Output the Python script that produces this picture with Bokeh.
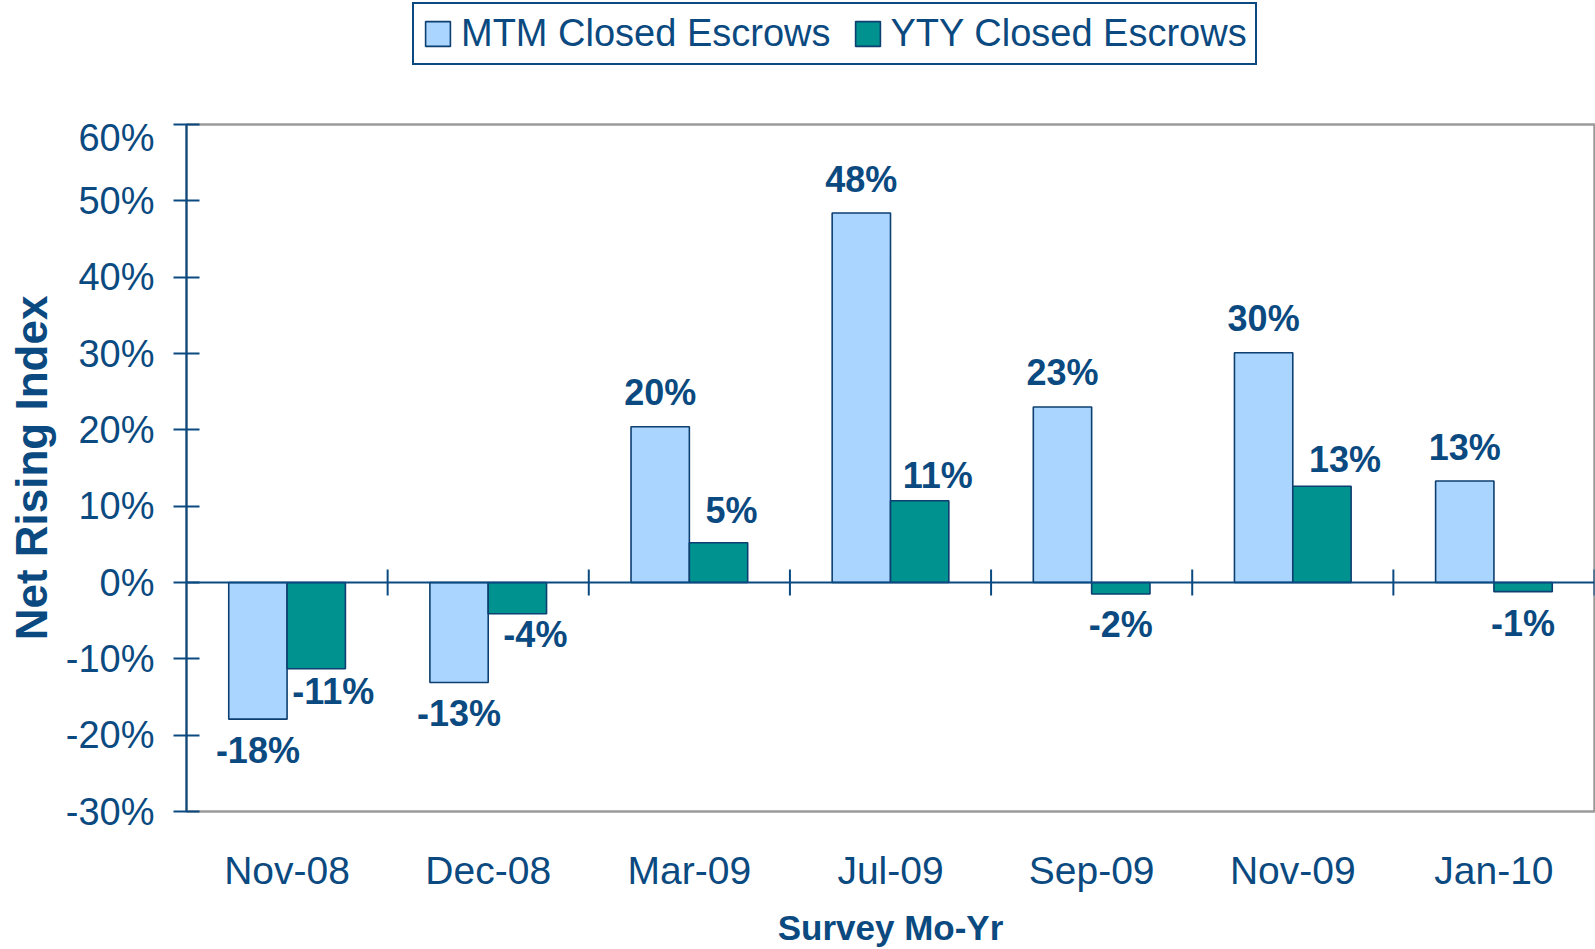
from bokeh.plotting import figure
from bokeh.layouts import column
from bokeh.models import (ColumnDataSource, FactorRange, Range1d, Span, Legend, LegendItem,
                          FixedTicker, PrintfTickFormatter)
from bokeh.transform import dodge
from bokeh.core.properties import value
from bokeh.embed import file_html
from bokeh.resources import INLINE
import math

# ---------------- data ----------------
categories = ["Nov-08", "Dec-08", "Mar-09", "Jul-09", "Sep-09", "Nov-09", "Jan-10"]
mtm_values = [-17.9, -13.1, 20.4, 48.4, 23.0, 30.1, 13.3]
yty_values = [-11.3, -4.1, 5.2, 10.7, -1.5, 12.6, -1.2]
mtm_labels = ["-18%", "-13%", "20%", "48%", "23%", "30%", "13%"]
yty_labels = ["-11%", "-4%", "5%", "11%", "-2%", "13%", "-1%"]
series_names = ["MTM Closed Escrows", "YTY Closed Escrows"]
y_ticks = [-30, -20, -10, 0, 10, 20, 30, 40, 50, 60]

# ---------------- style ----------------
NAVY = "#0B4A80"
OUTLINE = "#0D3F70"
MTM_COLOR = "#AAD5FF"
YTY_COLOR = "#00928F"
GRAY = "#9A9A9A"
FONT = "Liberation Sans"
BAR_W = 0.29
# manual label nudges (pixels) as in the original chart
mtm_dx = [0, 0, 0, 0, 0, 0, 0]
mtm_gap = [19, 19, 20, 20, 20, 20, 19]
yty_dx = [17, 18, 13, 18, 0, 23, 0]
yty_gap = [11, 9, 18, 11, 19, 13, 20]
CAP = 26
SHIFT = 14
W = 1595
LEG_H = 116
FRAME_LEFT = 186

# ---------------- legend strip ----------------
lp = figure(width=W, height=LEG_H, output_backend="svg", toolbar_location=None,
            x_range=Range1d(0, 1), y_range=Range1d(0, 1),
            x_axis_location=None, y_axis_location=None,
            min_border_left=0, min_border_right=0, min_border_top=0, min_border_bottom=0)
lp.outline_line_color = None
lp.grid.visible = False
lp.background_fill_color = "white"
lp.border_fill_color = "white"
# zero-size key glyphs (only used for the legend swatches)
key1 = lp.vbar(x=[0.5], top=[0], bottom=[0], width=0, fill_color=MTM_COLOR, line_color=OUTLINE, line_width=1.6)
key2 = lp.vbar(x=[0.5], top=[0], bottom=[0], width=0, fill_color=YTY_COLOR, line_color=OUTLINE, line_width=1.6)

legend = Legend(items=[LegendItem(label=series_names[0], renderers=[key1]),
                       LegendItem(label=series_names[1], renderers=[key2])],
                orientation="horizontal", location=(412 - FRAME_LEFT, LEG_H - 65))
legend.label_text_font = FONT
legend.label_text_font_size = "38px"
legend.label_text_color = NAVY
legend.glyph_width = 31
legend.glyph_height = 31
legend.label_standoff = 8
legend.spacing = 21
legend.padding = 8
legend.margin = 0
legend.border_line_color = NAVY
legend.border_line_alpha = 1
legend.border_line_width = 2
legend.background_fill_color = "white"
legend.background_fill_alpha = 1
lp.add_layout(legend, "center")

# ---------------- main chart ----------------
p = figure(width=W, height=949 - LEG_H, output_backend="svg", toolbar_location=None,
           x_range=FactorRange(*categories, range_padding=0),
           y_range=Range1d(-30, 60),
           min_border_left=FRAME_LEFT, min_border_top=124 - LEG_H, min_border_bottom=138, min_border_right=1)
p.background_fill_color = "white"
p.border_fill_color = "white"
p.outline_line_color = GRAY
p.outline_line_width = 2.5
p.xgrid.visible = False
p.ygrid.visible = False

def offsets(vals, gaps):
    return [(-g if v >= 0 else g + CAP) - SHIFT for v, g in zip(vals, gaps)]

src = ColumnDataSource(dict(
    cat=categories, mtm=mtm_values, yty=yty_values,
    mtm_lbl=mtm_labels, yty_lbl=yty_labels,
    mtm_dx=mtm_dx, yty_dx=yty_dx,
    mtm_dy=offsets(mtm_values, mtm_gap), yty_dy=offsets(yty_values, yty_gap),
))

zero = Span(location=0, dimension="width", line_color=NAVY, line_width=2)
p.add_layout(zero)

p.vbar(x=dodge("cat", -BAR_W / 2, range=p.x_range), top="mtm", bottom=0, width=BAR_W,
       source=src, fill_color=MTM_COLOR, line_color=OUTLINE, line_width=1.6)
p.vbar(x=dodge("cat", BAR_W / 2, range=p.x_range), top="yty", bottom=0, width=BAR_W,
       source=src, fill_color=YTY_COLOR, line_color=OUTLINE, line_width=1.6)

# category separator ticks on the zero line
p.scatter(x=dodge("cat", 0.5, range=p.x_range), y=0, source=src, marker="dash",
          angle=math.pi / 2, size=26, line_color=NAVY, line_width=2)

for col, dxc, dyc, xo in (("mtm_lbl", "mtm_dx", "mtm_dy", -BAR_W / 2), ("yty_lbl", "yty_dx", "yty_dy", BAR_W / 2)):
    valcol = col.split("_")[0]
    p.text(x=dodge("cat", xo, range=p.x_range), y=valcol, text=col, source=src,
           x_offset=dxc, y_offset=dyc, text_align="center", text_baseline="alphabetic",
           text_font=value(FONT), text_font_style="bold", text_font_size="36px", text_color=NAVY)

ya = p.yaxis[0]
ya.ticker = FixedTicker(ticks=y_ticks)
ya.formatter = PrintfTickFormatter(format="%d%%")
ya.axis_line_color = NAVY
ya.axis_line_width = 2
ya.major_tick_line_color = NAVY
ya.major_tick_line_width = 2
ya.major_tick_in = 13
ya.major_tick_out = 13
ya.minor_tick_line_color = None
ya.major_label_text_font = FONT
ya.major_label_text_font_size = "38px"
ya.major_label_text_color = NAVY
ya.major_label_standoff = 19
ya.axis_label = "Net Rising Index"
ya.axis_label_text_font = FONT
ya.axis_label_text_font_style = "bold"
ya.axis_label_text_font_size = "44px"
ya.axis_label_text_color = NAVY
ya.axis_label_standoff = 7

xa = p.xaxis[0]
xa.axis_line_color = None
xa.major_tick_line_color = None
xa.minor_tick_line_color = None
xa.major_label_text_font = FONT
xa.major_label_text_font_size = "39px"
xa.major_label_text_color = NAVY
xa.major_label_standoff = 31
xa.axis_label = "Survey Mo-Yr"
xa.axis_label_text_font = FONT
xa.axis_label_text_font_style = "bold"
xa.axis_label_text_font_size = "35px"
xa.axis_label_text_color = NAVY
xa.axis_label_standoff = 13

layout = column(lp, p, spacing=0)
open("out.html", "w").write(file_html(layout, INLINE))
